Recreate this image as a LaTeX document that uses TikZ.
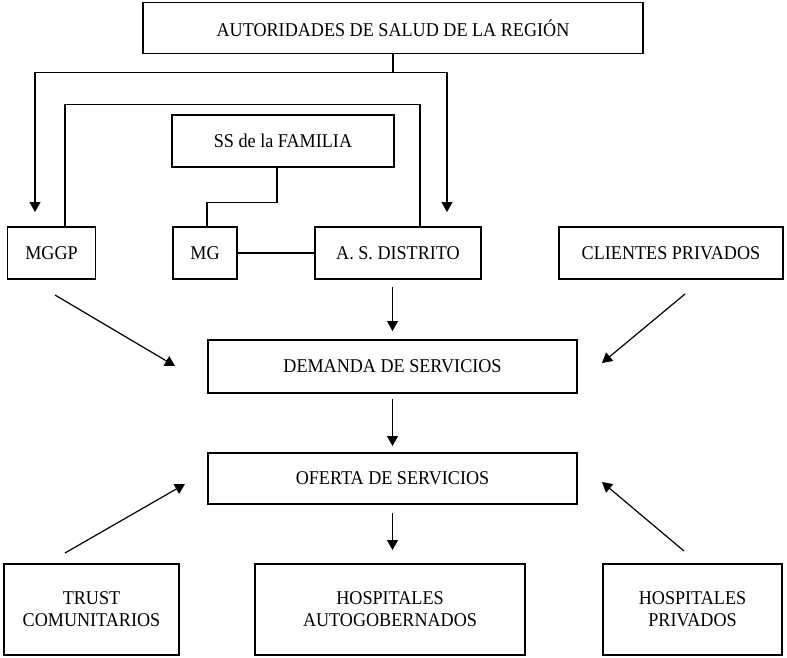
\documentclass[tikz,border=0pt]{standalone}
\usepackage{fontspec}
\setmainfont{Liberation Serif}[FakeStretch=0.93]
\usetikzlibrary{arrows.meta,calc}
\begin{document}
\begin{tikzpicture}[x=1pt,y=-1pt,
  box/.style={draw,line width=1.2pt,inner sep=0pt,align=center,
    font=\fontsize{19.5}{22}\selectfont},
  link/.style={line width=1.2pt},
  arr/.style={line width=1.2pt,-{Triangle[length=10pt,width=11pt]}}]
\useasboundingbox (0,0) rectangle (787,657);

% boxes
\node[box,minimum width=500pt,minimum height=51pt] (aut) at (393,28) {AUTORIDADES DE SALUD DE LA REGIÓN};
\node[box,minimum width=222pt,minimum height=52pt] (ss) at (283,141) {SS de la FAMILIA};
\node[box,minimum width=88pt,minimum height=52pt] (mggp) at (51.5,253) {MGGP};
\node[box,minimum width=64pt,minimum height=52pt] (mg) at (205,253) {MG};
\node[box,minimum width=166pt,minimum height=52pt] (asd) at (398,253) {A. S. DISTRITO};
\node[box,minimum width=224pt,minimum height=52pt] (cp) at (671,253) {CLIENTES PRIVADOS};
\node[box,minimum width=369pt,minimum height=53pt] (dem) at (392.5,366.5) {DEMANDA DE SERVICIOS};
\node[box,minimum width=369pt,minimum height=51pt] (of) at (392.5,478.5) {OFERTA DE SERVICIOS};
\node[box,minimum width=175pt,minimum height=91pt] (trust) at (91.5,609.5) {TRUST\\COMUNITARIOS};
\node[box,minimum width=270pt,minimum height=91pt] (ha) at (390,609.5) {HOSPITALES\\AUTOGOBERNADOS};
\node[box,minimum width=179pt,minimum height=91pt] (hp) at (692.5,609.5) {HOSPITALES\\PRIVADOS};

% free ends of the arrows
\coordinate (e1) at (35,212);
\coordinate (e2) at (447,212);
\coordinate (m1s) at (55,295);
\coordinate (m1e) at (175,366);
\coordinate (c1s) at (685,294);
\coordinate (c1e) at (602,363);
\coordinate (d1s) at (392.5,287);
\coordinate (d1e) at (392.5,331);
\coordinate (d2s) at (392.5,399);
\coordinate (d2e) at (392.5,446);
\coordinate (d3s) at (392.5,513);
\coordinate (d3e) at (392.5,550);
\coordinate (t1s) at (65,553);
\coordinate (t1e) at (185,484);
\coordinate (h1s) at (684,551);
\coordinate (h1e) at (602,482);

% regional authority branching to MGGP and district
\draw[link] (aut.south) -- ++(0,18.5) coordinate (j);
\draw[arr] (j) -| (e1);
\draw[arr] (j) -| (e2);

% MGGP linked to the district authority
\draw[link] ($(mggp.north)+(13.5,0)$) |- ($(asd.north)+(22,-122)$) -- ($(asd.north)+(22,0)$);

% family services to MG, MG to district
\draw[link] ($(ss.south)+(-6,0)$) |- ($(mg.north)+(2,-24)$) -- ($(mg.north)+(2,0)$);
\draw[link] (mg.east) -- (asd.west);

% flows into demand and supply
\draw[arr] (m1s) -- (m1e);
\draw[arr] (c1s) -- (c1e);
\draw[arr] (d1s) -- (d1e);
\draw[arr] (d2s) -- (d2e);
\draw[arr] (d3s) -- (d3e);
\draw[arr] (t1s) -- (t1e);
\draw[arr] (h1s) -- (h1e);
\end{tikzpicture}
\end{document}
